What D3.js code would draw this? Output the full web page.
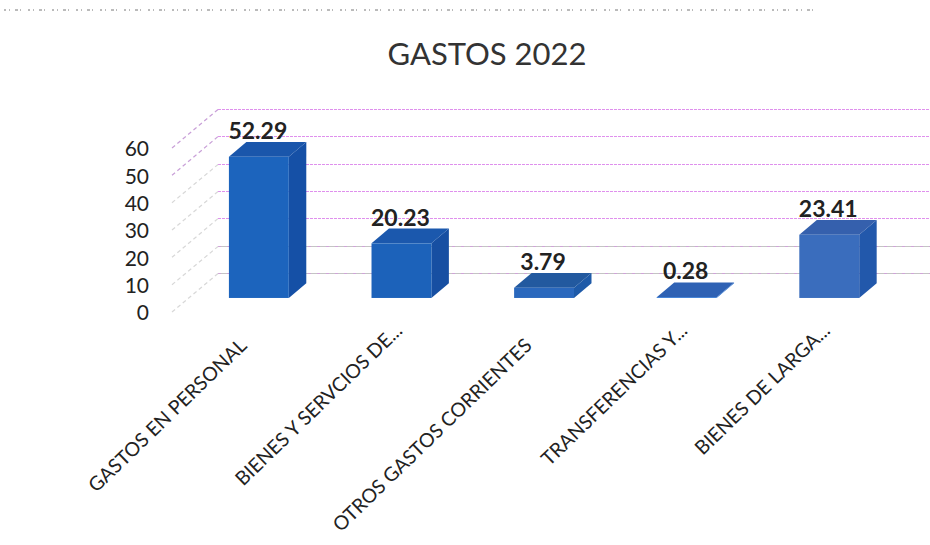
<!DOCTYPE html>
<html>
<head>
<meta charset="utf-8">
<script src="https://cdn.jsdelivr.net/npm/d3@7"></script>
<style>
  html, body { margin: 0; padding: 0; background: #fff; }
  svg { display: block; }
  text { font-family: Lato, "Open Sans", sans-serif; fill: #222; }
</style>
</head>
<body>
<svg id="drawing_region"></svg>
<script>
const categories = [
    "GASTOS EN PERSONAL",
    "BIENES Y SERVCIOS DE...",
    "OTROS GASTOS CORRIENTES",
    "TRANSFERENCIAS Y...",
    "BIENES DE LARGA..."
];
const values = [52.29, 20.23, 3.79, 0.28, 23.41];
const valueLabels = ["52.29", "20.23", "3.79", "0.28", "23.41"];
const yTicks = [0, 10, 20, 30, 40, 50, 60];
const title = "GASTOS 2022";

const width = 930, height = 545;

const svg = d3.select("#drawing_region")
    .attr("width", width)
    .attr("height", height);

// front plane of the 3d box
const yscale = d3.scaleLinear().domain([0, 60]).range([312, 148]);
const barHeight = d3.scaleLinear().domain([0, 60]).range([0, 162]);
const xscale = d3.scaleBand()
    .domain(categories)
    .range([171, 884])
    .paddingInner(0.58)
    .paddingOuter(0.29);

// depth: 0 = front of the box, 1 = back wall
const depthX = d3.scaleLinear().domain([0, 1]).range([0, 46]);
const depthY = d3.scaleLinear().domain([0, 1]).range([0, -39]);

const wallLeft = 172;
const wallRight = 930;

// scan noise along the top edge
svg.append("line")
    .attr("x1", 4).attr("x2", 820)
    .attr("y1", 10).attr("y2", 10)
    .attr("stroke", "#777")
    .attr("stroke-width", 1)
    .attr("stroke-dasharray", "2 3 1 5 3 2 1 7");

// gridlines on the back wall, with the diagonals on the left wall
const grid = svg.append("g");
yTicks.forEach(t => {
    const yBack = Math.round(yscale(t) + depthY(1)) + 0.5;
    const xBack = wallLeft + depthX(1);
    if (t <= 10) {
        grid.append("line")
            .attr("x1", xBack).attr("x2", wallRight)
            .attr("y1", yBack).attr("y2", yBack)
            .attr("stroke", "#c4c4c4")
            .attr("stroke-width", 1);
    }
    grid.append("line")
        .attr("x1", xBack).attr("x2", wallRight)
        .attr("y1", yBack).attr("y2", yBack)
        .attr("stroke", "#dc85ec")
        .attr("opacity", t <= 10 ? 0.5 : 0.9)
        .attr("stroke-width", 1)
        .attr("stroke-dasharray", t <= 10 ? "3 6" : "3 1");
    grid.append("line")
        .attr("x1", wallLeft).attr("x2", xBack)
        .attr("y1", yscale(t)).attr("y2", yBack)
        .attr("stroke", t >= 50 ? "#c9a0d8" : "#d8d8d8")
        .attr("stroke-width", 1.2)
        .attr("stroke-dasharray", "4 3");
});

// y axis
const yaxis = d3.axisLeft(yscale).tickValues(yTicks).tickSize(0).tickPadding(0);
const yaxisGroup = svg.append("g")
    .attr("transform", "translate(149, 1)")
    .call(yaxis);
yaxisGroup.select(".domain").remove();
yaxisGroup.selectAll("text")
    .attr("font-size", 21)
    .style("font-family", "Lato, sans-serif");

// bars
const frontDepth = 0.36;
const backDepth = 0.74;
const fills = [
    { front: "#1c64bd", top: "#1a56ab", side: "#1550a6" },
    { front: "#1c62ba", top: "#1b58ad", side: "#174fa2" },
    { front: "#2a68bd", top: "#22599f", side: "#1e5aa8" },
    { front: "#1e6cd0", top: "#2f62b4", side: "#1e6cd0" },
    { front: "#3a6dbd", top: "#3560ad", side: "#2258ab" }
];
const poly = pts => pts.map(p => p.join(",")).join(" ");

const bars = svg.append("g").selectAll("g")
    .data(categories)
    .join("g");

bars.each(function (c, i) {
    const g = d3.select(this);
    const x0 = xscale(c) + depthX(frontDepth);
    const x1 = x0 + xscale.bandwidth();
    const dx = depthX(backDepth) - depthX(frontDepth);
    const dy = depthY(backDepth) - depthY(frontDepth);
    const yb = yscale(0) + depthY(frontDepth);
    const yt = yb - barHeight(values[i]);

    g.append("polygon")
        .attr("points", poly([[x1, yt], [x1 + dx, yt + dy], [x1 + dx, yb + dy], [x1, yb]]))
        .attr("fill", fills[i].side);
    g.append("polygon")
        .attr("points", poly([[x0, yt], [x1, yt], [x1 + dx, yt + dy], [x0 + dx, yt + dy]]))
        .attr("fill", fills[i].top);
    g.append("rect")
        .attr("x", x0).attr("y", yt)
        .attr("width", x1 - x0).attr("height", yb - yt)
        .attr("fill", fills[i].front);

    // value label
    g.append("text")
        .attr("x", (x0 + x1) / 2 - 1)
        .attr("y", yt + dy - 3)
        .attr("text-anchor", "middle")
        .attr("font-size", 23)
        .attr("font-weight", 700)
        .text(valueLabels[i]);
});

// category labels, the ones cut with dots sit a little further along
const labelEnd = d => {
    const cx = xscale(d) + depthX(frontDepth) + xscale.bandwidth() / 2;
    return d.endsWith("...") ? [cx + 2, 332] : [cx - 11, 347];
};
svg.append("g").selectAll("text")
    .data(categories)
    .join("text")
    .attr("transform", d => `translate(${labelEnd(d)}) rotate(-44)`)
    .attr("text-anchor", "end")
    .attr("font-size", 19.5)
    .text(d => d);

// title
svg.append("text")
    .attr("x", 487)
    .attr("y", 65)
    .attr("text-anchor", "middle")
    .attr("font-size", 31)
    .style("fill", "#333")
    .text(title);
</script>
</body>
</html>
